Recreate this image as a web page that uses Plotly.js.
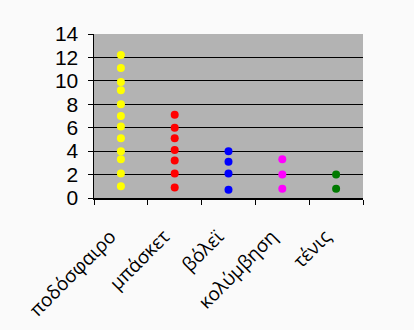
<!DOCTYPE html>
<html>
<head>
<meta charset="utf-8">
<script src="https://cdn.plot.ly/plotly-3.0.1.min.js"></script>
<style>html,body{margin:0;padding:0;background:#fafafa;}#chart{width:414px;height:330px;}</style>
</head>
<body>
<div id="chart"></div>
<script>
const categories = ["ποδόσφαιρο", "μπάσκετ", "βόλεϊ", "κολύμβηση", "τένις"];
const football = [12.2, 11.1, 9.9, 9.2, 8.0, 7.0, 6.1, 5.1, 4.0, 3.3, 2.1, 1.0];
const basketball = [7.1, 6.0, 5.1, 4.1, 3.2, 2.1, 0.9];
const volley = [4.0, 3.1, 2.1, 0.7];
const swimming = [3.3, 2.0, 0.8];
const tennis = [2.0, 0.8];
const series = [football, basketball, volley, swimming, tennis];
const colors = ["#ffff00", "#ff0000", "#0000ff", "#ff00ff", "#007a00"];
const yTicks = [0, 2, 4, 6, 8, 10, 12, 14];
const gridTicks = [2, 4, 6, 8, 10, 12];

const traces = series.map((vals, i) => ({
  type: "scatter",
  mode: "markers",
  x: vals.map(() => categories[i]),
  y: vals,
  marker: {color: colors[i], size: 8, line: {width: 0}},
  showlegend: false,
  hoverinfo: "skip"
}));
traces.push({type: "scatter", mode: "markers", x: [categories[0]], y: [0], yaxis: "y2",
  marker: {opacity: 0}, showlegend: false, hoverinfo: "skip"});

const layout = {
  width: 414, height: 330,
  margin: {l: 94, r: 51, t: 34, b: 132},
  paper_bgcolor: "#fafafa",
  plot_bgcolor: "#b3b3b3",
  font: {family: "Liberation Sans, Arial, sans-serif", color: "#000"},
  xaxis: {
    type: "category",
    categoryorder: "array", categoryarray: categories,
    range: [-0.5, 4.5],
    tickmode: "array",
    tickvals: categories,
    ticktext: categories.map(c => c + "\u00a0\u00a0\u00a0"),
    tickson: "boundaries",
    ticks: "outside", ticklen: 5, tickcolor: "#000", tickwidth: 1,
    showline: true, linecolor: "#000", linewidth: 1.5,
    showgrid: false, zeroline: false,
    tickangle: -45,
    ticklabelstandoff: 8,
    tickfont: {family: "Open Sans, Noto Sans, sans-serif", size: 19, color: "#000"}
  },
  yaxis: {
    range: [0, 14],
    tickvals: yTicks,
    ticks: "outside", ticklen: 5, tickcolor: "#000", tickwidth: 1,
    showline: true, linecolor: "#000", linewidth: 1.5,
    showgrid: false, zeroline: false,
    ticklabelstandoff: 5,
    tickfont: {family: "Liberation Sans, Arial, sans-serif", size: 21, color: "#000"}
  },
  yaxis2: {
    overlaying: "y", range: [0, 14], tickvals: gridTicks,
    showticklabels: false, ticks: "", showline: false, zeroline: false,
    showgrid: true, gridcolor: "#000", gridwidth: 1, layer: "below traces"
  }
};
Plotly.newPlot("chart", traces, layout, {staticPlot: true, displayModeBar: false});
</script>
</body>
</html>
